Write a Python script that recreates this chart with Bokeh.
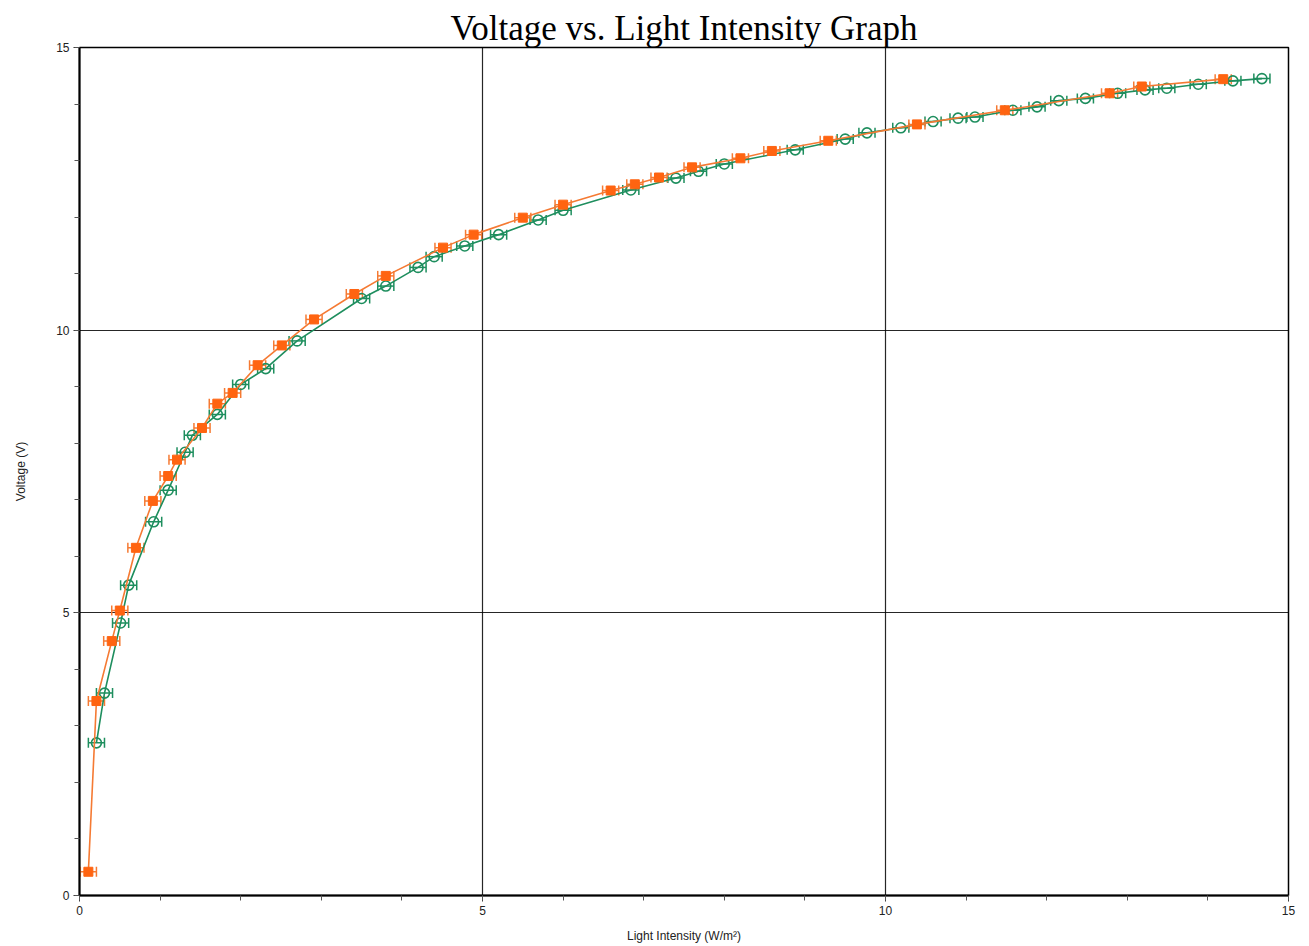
from bokeh.plotting import figure
from bokeh.models import ColumnDataSource, Whisker, TeeHead, Range1d, SingleIntervalTicker, FixedTicker
from bokeh.embed import file_html
from bokeh.resources import INLINE

# Series 1 (orange squares)
orange_x = [0.11, 0.21, 0.40, 0.50, 0.70, 0.91, 1.10, 1.21, 1.52, 1.71, 1.90, 2.21, 2.51, 2.91,
            3.41, 3.80, 4.51, 4.89, 5.50, 6.00, 6.59, 6.89, 7.19, 7.60, 8.20, 8.59, 9.29, 10.39,
            11.48, 12.78, 13.18, 14.19]
orange_y = [0.42, 3.44, 4.50, 5.04, 6.15, 6.98, 7.42, 7.71, 8.27, 8.70, 8.89, 9.38, 9.73, 10.19,
            10.64, 10.96, 11.46, 11.69, 11.99, 12.22, 12.47, 12.58, 12.70, 12.88, 13.04, 13.17, 13.35, 13.64,
            13.89, 14.19, 14.31, 14.44]

# Series 2 (green open circles)
green_x = [0.21, 0.31, 0.51, 0.61, 0.92, 1.10, 1.31, 1.40, 1.71, 2.00, 2.31, 2.70, 3.50, 3.80,
           4.20, 4.40, 4.78, 5.20, 5.69, 6.00, 6.84, 7.40, 7.68, 8.00, 8.88, 9.50, 9.77, 10.19,
           10.59, 10.90, 11.11, 11.58, 11.88, 12.15, 12.48, 12.88, 13.22, 13.49, 13.88, 14.31, 14.67]
green_y = [2.70, 3.58, 4.82, 5.49, 6.61, 7.17, 7.84, 8.14, 8.51, 9.04, 9.32, 9.81, 10.56, 10.78,
           11.11, 11.30, 11.49, 11.69, 11.95, 12.12, 12.48, 12.69, 12.81, 12.94, 13.19, 13.38, 13.49, 13.58,
           13.69, 13.75, 13.77, 13.89, 13.95, 14.06, 14.10, 14.19, 14.25, 14.28, 14.35, 14.41, 14.45]

x_error = 0.1  # horizontal uncertainty (W/m²)
tick_values = [0, 5, 10, 15]

ORANGE = "#FF6411"
ORANGE_LINE = "#F57A33"
GREEN = "#1E8E5E"

p = figure(width=1309, height=946, x_range=Range1d(0, 15), y_range=Range1d(0, 15),
           output_backend="svg", toolbar_location=None,
           min_border_left=79, min_border_right=21, min_border_top=47, min_border_bottom=51,
           title="Voltage vs. Light Intensity Graph")

p.title.text_font = "Liberation Serif"
p.title.text_font_size = "35px"
p.title.text_font_style = "normal"
p.title.text_color = "black"
p.title.align = "center"
p.title.offset = 5
p.title.standoff = 0

p.outline_line_color = "black"
p.outline_line_width = 1.5

for ax, label in ((p.xaxis, "Light Intensity (W/m²)"), (p.yaxis, "Voltage (V)")):
    ax.ticker = SingleIntervalTicker(interval=5, num_minor_ticks=5)
    ax.axis_label = label
    ax.axis_label_text_font = "Liberation Sans"
    ax.axis_label_text_font_size = "12px"
    ax.axis_label_text_font_style = "normal"
    ax.axis_label_text_color = "#222222"
    ax.major_label_text_font = "Liberation Sans"
    ax.major_label_text_font_size = "12px"
    ax.major_label_text_color = "#222222"
    ax.axis_line_color = "black"
    ax.axis_line_width = 2
    ax.major_tick_in = 0
    ax.major_tick_out = 6
    ax.minor_tick_in = 0
    ax.minor_tick_out = 5
    ax.major_tick_line_color = "#333333"
    ax.minor_tick_line_color = "#555555"
    ax.major_label_standoff = 4

p.xaxis.axis_label_standoff = 11
p.yaxis.axis_label_standoff = 25

p.xgrid.ticker = FixedTicker(ticks=tick_values)
p.ygrid.ticker = FixedTicker(ticks=tick_values)
for g in (p.xgrid, p.ygrid):
    g.grid_line_color = "black"
    g.grid_line_width = 1.2
    g.grid_line_alpha = 0.85

src_g = ColumnDataSource(dict(x=green_x, y=green_y,
                              lo=[v - x_error for v in green_x], hi=[v + x_error for v in green_x]))
src_o = ColumnDataSource(dict(x=orange_x, y=orange_y,
                              lo=[v - x_error for v in orange_x], hi=[v + x_error for v in orange_x]))

# green series
p.line("x", "y", source=src_g, line_color=GREEN, line_width=1.6)
wg = Whisker(base="y", lower="lo", upper="hi", dimension="width", source=src_g,
             line_color=GREEN, line_width=1.5,
             lower_head=TeeHead(size=10, line_color=GREEN, line_width=1.5),
             upper_head=TeeHead(size=10, line_color=GREEN, line_width=1.5))
p.add_layout(wg)
p.scatter("x", "y", source=src_g, marker="circle", size=10, fill_color=None,
          line_color=GREEN, line_width=1.6)

# orange series
p.line("x", "y", source=src_o, line_color=ORANGE_LINE, line_width=1.6)
wo = Whisker(base="y", lower="lo", upper="hi", dimension="width", source=src_o,
             line_color=ORANGE_LINE, line_width=1.5,
             lower_head=TeeHead(size=10, line_color=ORANGE_LINE, line_width=1.5),
             upper_head=TeeHead(size=10, line_color=ORANGE_LINE, line_width=1.5))
p.add_layout(wo)
p.scatter("x", "y", source=src_o, marker="square", size=9, fill_color=ORANGE,
          line_color=ORANGE)

open("out.html", "w").write(file_html(p, INLINE))
